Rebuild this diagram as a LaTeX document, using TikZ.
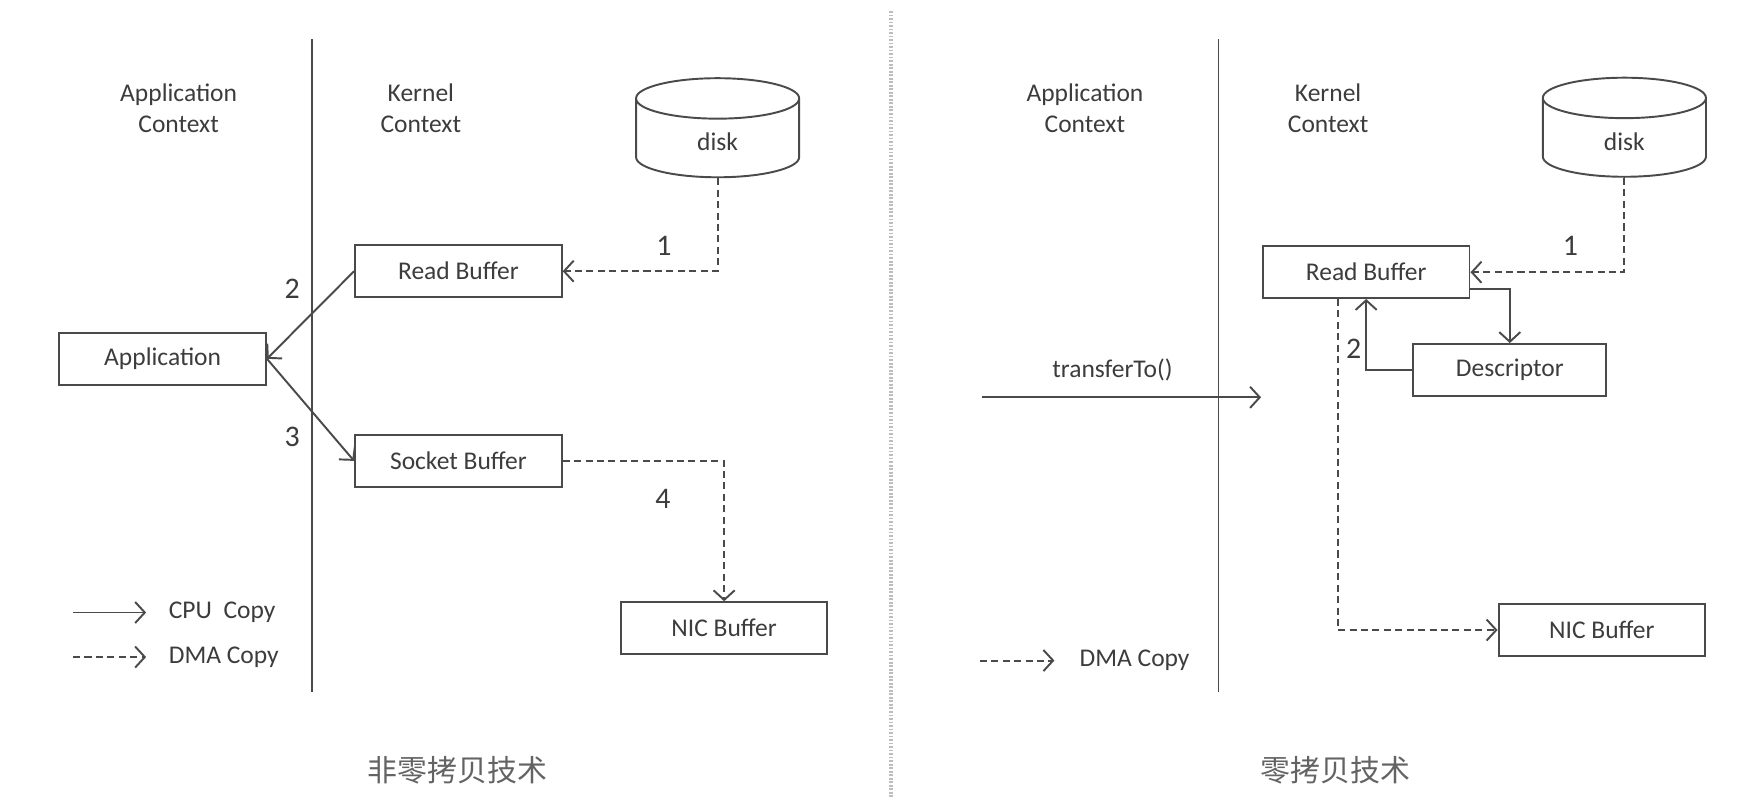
\documentclass[tikz,border=0pt]{standalone}
\usepackage{fontspec}
\setsansfont{Carlito}
\newfontfamily\zhfont{Noto Sans CJK SC}
\usepackage{tikz}
\usetikzlibrary{arrows.meta, positioning, shapes.geometric}
\definecolor{tinta}{HTML}{3C3C3C}
\definecolor{trazo}{HTML}{4A4A4A}
\definecolor{corte}{HTML}{BDBDBD}
\tikzset{
  every picture/.style={font=\sffamily},
  buf/.style={draw=trazo, text=tinta, line width=1.1pt, minimum width=4.13cm, minimum height=1.03cm,
              font=\sffamily\fontsize{14.5}{17.5}\selectfont},
  lbl/.style={text=tinta, font=\sffamily\fontsize{14.5}{17.5}\selectfont, align=center},
  num/.style={text=tinta, font=\sffamily\fontsize{17}{20}\selectfont},
  cpu/.style={-{Straight Barb[length=5.5pt,width=12pt]}, line width=1.1pt, draw=trazo},
  dma/.style={cpu, dash pattern=on 4pt off 2.5pt},
}
\begin{document}
\begin{tikzpicture}[
  disco/.style={cylinder, shape border rotate=90, draw=trazo, line width=1.1pt, text=tinta, aspect=0.77,
                minimum width=3.26cm, minimum height=1.98cm, font=\sffamily\fontsize{14.5}{17.5}\selectfont},
  raya/.style={draw=trazo, line width=1pt},
  titulo/.style={text=tinta!80, font=\zhfont\fontsize{17}{20}\selectfont}]
  \useasboundingbox (0,0) rectangle (34.97,16.03);
  \draw[corte, line width=2pt, dash pattern=on 1pt off 1pt] (17.80,15.81) -- (17.80,0.09);
  % sin copia cero
  \draw[raya] (6.24,15.25) -- (6.24,2.20);
  \node[lbl] (ac1) at (3.57,13.87) {Application\\Context};
  \node[lbl] (kc1) at (8.41,13.87) {Kernel\\Context};
  \node[disco] (disk1) at (14.34,13.19) {disk};
  \node[buf] (rb1) at (9.16,10.61) {Read Buffer};
  \node[buf] (app) at (3.25,8.86) {Application};
  \node[buf] (sb1) at (9.16,6.82) {Socket Buffer};
  \node[buf] (nic1) at (14.47,3.48) {NIC Buffer};
  \draw[dma] (disk1.south) |- (rb1.east);
  \draw[cpu] (rb1.west) -- (app.east);
  \draw[cpu] (app.east) -- (sb1.west);
  \draw[dma] (sb1.east) -| (nic1.north);
  \node[num] (n1) at (13.27,11.12) {1};
  \node[num] (n2) at (5.84,10.25) {2};
  \node[num] (n3) at (5.84,7.29) {3};
  \node[num] (n4) at (13.25,6.06) {4};
  \coordinate (cpua) at (1.46,3.79);
  \coordinate (cpub) at (2.92,3.79);
  \coordinate (dmaa) at (1.46,2.90);
  \coordinate (dmab) at (2.92,2.90);
  \draw[cpu] (cpua) -- (cpub);
  \draw[dma] (dmaa) -- (dmab);
  \node[lbl, anchor=west] (cpuk) at (3.25,3.79) {CPU~ Copy};
  \node[lbl, anchor=west] (dmak) at (3.25,2.90) {DMA Copy};
  \node[titulo] (t1) at (9.14,0.64) {非零拷贝技术};
  % copia cero
  \draw[raya] (24.35,15.25) -- (24.35,2.20);
  \node[lbl] (ac2) at (21.68,13.87) {Application\\Context};
  \node[lbl] (kc2) at (26.54,13.87) {Kernel\\Context};
  \node[disco] (disk2) at (32.46,13.20) {disk};
  \node[buf] (rb2) at (27.30,10.59) {Read Buffer};
  \node[buf, minimum width=3.86cm] (desc) at (30.17,8.64) {Descriptor};
  \node[buf] (nic2) at (32.01,3.44) {NIC Buffer};
  \draw[dma] (disk2.south) |- (rb2.east);
  \draw[cpu] ([yshift=2mm]rb2.south east) -| (desc.north);
  \draw[cpu] (desc.west) -| (rb2.south);
  \draw[dma] ([xshift=-5.7mm]rb2.south) |- (nic2.west);
  \node[num] (m1) at (31.38,11.12) {1};
  \node[num] (m2) at (27.05,9.05) {2};
  \node[lbl] (tt) at (22.23,8.63) {transferTo()};
  \coordinate (tta) at (19.62,8.09);
  \coordinate (ttb) at (25.20,8.09);
  \draw[cpu] (tta) -- (ttb);
  \coordinate (dmc) at (19.58,2.83);
  \coordinate (dmd) at (21.07,2.83);
  \draw[dma] (dmc) -- (dmd);
  \node[lbl, anchor=west] (dmak2) at (21.45,2.83) {DMA Copy};
  \node[titulo] (t2) at (26.69,0.64) {零拷贝技术};
\end{tikzpicture}
\end{document}
